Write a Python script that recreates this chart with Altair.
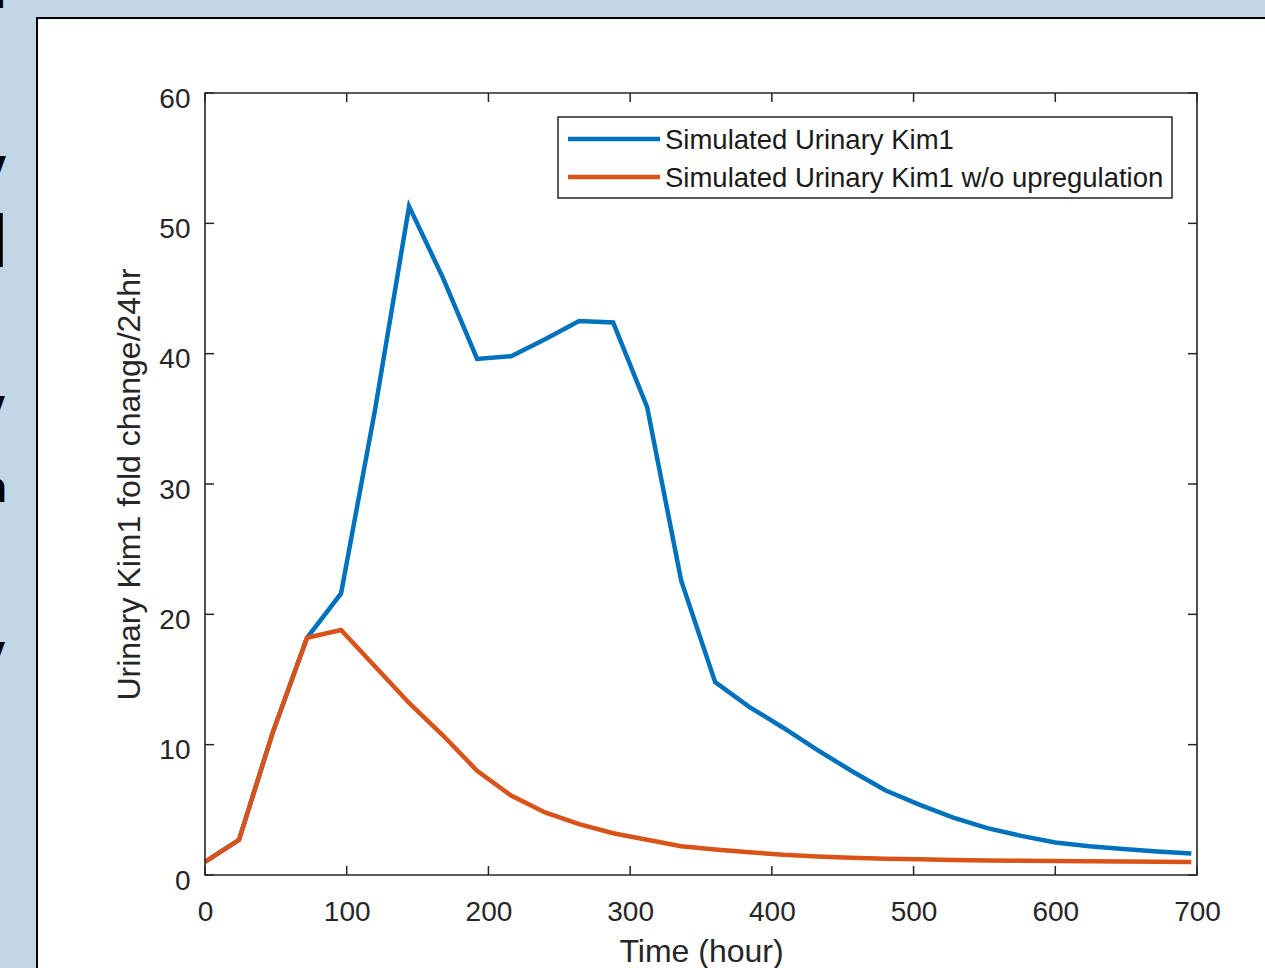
import altair as alt
import pandas as pd

# ---------------- data ----------------
hours = [0, 24, 48, 72, 96, 120, 144, 168, 192, 216, 240, 264, 288, 312, 336,
         360, 384, 408, 432, 456, 480, 504, 528, 552, 576, 600, 624, 648, 672, 696]
kim1 = [1.0, 2.7, 11.0, 18.2, 21.6, 35.7, 51.3, 45.8, 39.6, 39.8, 41.1, 42.5, 42.4, 35.9, 22.6,
        14.8, 12.9, 11.3, 9.6, 8.0, 6.5, 5.4, 4.4, 3.6, 3.0, 2.5, 2.2, 2.0, 1.8, 1.65]
kim1_noup = [1.0, 2.7, 11.0, 18.2, 18.8, 16.0, 13.2, 10.7, 8.0, 6.1, 4.8, 3.9, 3.2, 2.7, 2.2,
             1.95, 1.75, 1.55, 1.42, 1.32, 1.25, 1.2, 1.15, 1.12, 1.1, 1.08, 1.05, 1.03, 1.02, 1.0]
series_names = ["Simulated Urinary Kim1", "Simulated Urinary Kim1 w/o upregulation"]
series_colors = ["#0072BD", "#D95319"]
x_ticks = [0, 100, 200, 300, 400, 500, 600, 700]
y_ticks = [0, 10, 20, 30, 40, 50, 60]
x_title = "Time (hour)"
y_title = "Urinary Kim1 fold change/24hr"
edge_letters = ["l", "y", "l", "y", "n", "y"]

# ---------------- layout / style ----------------
W, H = 992, 782
PL, PT = 205, 93
FONT = "Liberation Sans"
AX = "#262626"
TICK = 9
# (right edge x, baseline y, font size) in page pixels for the clipped letters
edge_layout = [(6, 8, 42), (6, 179, 42), (8, 267, 75), (5, 419, 42), (7, 502, 42), (5, 665, 42)]

one = pd.DataFrame({"a": [0]})
xscale = alt.Scale(domain=[x_ticks[0], x_ticks[-1]], nice=False, zero=False)
yscale = alt.Scale(domain=[y_ticks[0], y_ticks[-1]], nice=False, zero=False)

xaxis = alt.Axis(values=x_ticks, format="d", title=x_title, ticks=False, tickSize=0,
                 domain=False, grid=False, labelFont=FONT, labelFontSize=28, labelColor=AX,
                 labelPadding=23, labelFlush=False, titleFont=FONT, titleFontSize=32,
                 titleFontWeight="normal", titleColor=AX, titlePadding=10, zindex=2)
yaxis = alt.Axis(values=y_ticks, format="d", title=y_title, ticks=False, tickSize=0,
                 domain=False, grid=False, labelFont=FONT, labelFontSize=28, labelColor=AX,
                 labelPadding=15, labelOffset=6, labelFlush=False, titleFont=FONT,
                 titleFontSize=32, titleFontWeight="normal", titleColor=AX,
                 titlePadding=12, zindex=2)

panel = alt.Chart(one).mark_rect(fill="white", stroke="black", strokeWidth=2).encode(
    x=alt.value(37 - PL), x2=alt.value(1300 - PL),
    y=alt.value(18 - PT), y2=alt.value(1000 - PT))

letters = []
for ch, (xr, yb, fs) in zip(edge_letters, edge_layout):
    letters.append(alt.Chart(one).mark_text(
        text=ch, align="right", baseline="alphabetic", font=FONT, fontWeight="bold",
        fontSize=fs, color="black").encode(x=alt.value(xr - PL), y=alt.value(yb - PT)))

df_a = pd.DataFrame({"t": hours, "v": kim1})
df_b = pd.DataFrame({"t": hours, "v": kim1_noup})

line_a = alt.Chart(df_a).mark_line(color=series_colors[0], strokeWidth=4.5).encode(
    x=alt.X("t:Q", scale=xscale, axis=xaxis),
    y=alt.Y("v:Q", scale=yscale, axis=yaxis))
line_b = alt.Chart(df_b).mark_line(color=series_colors[1], strokeWidth=4.5).encode(
    x=alt.X("t:Q", scale=xscale, axis=xaxis),
    y=alt.Y("v:Q", scale=yscale, axis=yaxis))

xt = pd.DataFrame({"t": x_ticks})
yt = pd.DataFrame({"v": y_ticks})
tick_b = alt.Chart(xt).mark_rule(color=AX, strokeWidth=1.5).encode(
    x=alt.X("t:Q", scale=xscale, axis=xaxis), y=alt.value(H), y2=alt.value(H - TICK))
tick_t = alt.Chart(xt).mark_rule(color=AX, strokeWidth=1.5).encode(
    x=alt.X("t:Q", scale=xscale, axis=xaxis), y=alt.value(0), y2=alt.value(TICK))
tick_l = alt.Chart(yt).mark_rule(color=AX, strokeWidth=1.5).encode(
    y=alt.Y("v:Q", scale=yscale, axis=yaxis), x=alt.value(0), x2=alt.value(TICK))
tick_r = alt.Chart(yt).mark_rule(color=AX, strokeWidth=1.5).encode(
    y=alt.Y("v:Q", scale=yscale, axis=yaxis), x=alt.value(W - TICK), x2=alt.value(W))

frame_df = pd.DataFrame({"t": [x_ticks[0]], "t1": [x_ticks[-1]],
                         "v": [y_ticks[0]], "v1": [y_ticks[-1]]})
frame = alt.Chart(frame_df).mark_rect(fill="transparent", stroke=AX, strokeWidth=1.6).encode(
    x=alt.X("t:Q", scale=xscale, axis=xaxis), x2="t1:Q",
    y=alt.Y("v:Q", scale=yscale, axis=yaxis), y2="v1:Q")

# legend (drawn manually, MATLAB style)
LX0, LX1, LY0, LY1 = 558 - PL, 1172 - PL, 117 - PT, 198 - PT
legend_box = alt.Chart(one).mark_rect(fill="white", stroke=AX, strokeWidth=1.5).encode(
    x=alt.value(LX0), x2=alt.value(LX1), y=alt.value(LY0), y2=alt.value(LY1))
legend_layers = [legend_box]
for i, (name, col) in enumerate(zip(series_names, series_colors)):
    yy = (139 if i == 0 else 177) - PT
    legend_layers.append(alt.Chart(one).mark_rule(color=col, strokeWidth=4.5).encode(
        x=alt.value(568 - PL), x2=alt.value(660 - PL), y=alt.value(yy)))
    legend_layers.append(alt.Chart(one).mark_text(
        text=name, align="left", baseline="middle", font=FONT, fontSize=27.5,
        color="#1a1a1a").encode(x=alt.value(665 - PL), y=alt.value(yy + 2)))

chart = alt.layer(
    panel, *letters, line_a, line_b, tick_b, tick_t, tick_l, tick_r, frame, *legend_layers
).properties(
    width=W, height=H,
    padding={"left": PL, "top": PT, "right": 1265 - PL - W, "bottom": 968 - PT - H},
    autosize=alt.AutoSizeParams(type="none"),
    background="#c2d6e6",
).configure_view(stroke="transparent")

chart.save("out.html", embed_options={"renderer": "svg", "actions": False})
